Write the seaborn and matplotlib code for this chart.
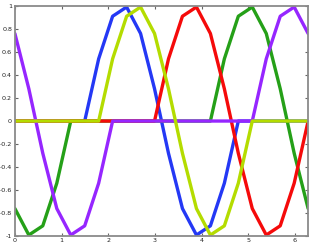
import numpy as np
import pandas as pd
import matplotlib
matplotlib.use('Agg')
import matplotlib.pyplot as plt
import seaborn as sns

# sample positions (22 points from 0 to 2*pi)
x_vals = [0.000, 0.299, 0.598, 0.898, 1.197, 1.496, 1.795, 2.094, 2.394, 2.693, 2.992,
          3.291, 3.590, 3.890, 4.189, 4.488, 4.787, 5.086, 5.386, 5.685, 5.984, 6.283]

# values, one list per line
blue   = [0, 0, 0, 0, 0, 0, 0.54, 0.91, 0.99, 0.76, 0.28,
          -0.28, -0.76, -0.99, -0.91, -0.54, 0, 0, 0, 0, 0, 0]
yellow = [0, 0, 0, 0, 0, 0, 0, 0.54, 0.91, 0.99, 0.76,
          0.28, -0.28, -0.76, -0.99, -0.91, -0.54, 0, 0, 0, 0, 0]
red    = [0, 0, 0, 0, 0, 0, 0, 0, 0, 0, 0,
          0.54, 0.91, 0.99, 0.76, 0.28, -0.28, -0.76, -0.99, -0.91, -0.54, 0]
green  = [-0.76, -0.99, -0.91, -0.54, 0, 0, 0, 0, 0, 0, 0,
          0, 0, 0, 0, 0.54, 0.91, 0.99, 0.76, 0.28, -0.28, -0.76]
purple = [0.76, 0.28, -0.28, -0.76, -0.99, -0.91, -0.54, 0, 0, 0, 0,
          0, 0, 0, 0, 0, 0, 0, 0.54, 0.91, 0.99, 0.76]

series = {"blue": blue, "yellow": yellow, "red": red, "green": green, "purple": purple}
colors = {"blue": "#2438f5", "yellow": "#b4dc00", "red": "#f50a0a",
          "green": "#25a018", "purple": "#9626ff"}
# later entries are drawn on top
draw_order = ["blue", "green", "red", "purple", "yellow"]

x_ticks = [0, 1, 2, 3, 4, 5, 6]
y_ticks = [-1, -0.8, -0.6, -0.4, -0.2, 0, 0.2, 0.4, 0.6, 0.8, 1]

rows = []
for name, vals in series.items():
    for xv, yv in zip(x_vals, vals):
        rows.append({"x": xv, "y": yv, "line": name})
df = pd.DataFrame(rows)

sns.set_style("white")
plt.rcParams['font.family'] = ['DejaVu Sans']

fig = plt.figure(figsize=(3.1, 2.45), dpi=100)
ax = fig.add_axes([0.048, 0.036, 0.946, 0.940])

sns.lineplot(data=df, x="x", y="y", hue="line", hue_order=draw_order,
             palette=colors, estimator=None, sort=False, linewidth=2.4,
             legend=False, ax=ax)

ax.set_xlim(0, x_vals[-1])
ax.set_ylim(-1, 1)
ax.set_xticks(x_ticks)
ax.set_yticks(y_ticks)
ax.set_xticklabels([f"{t:g}" for t in x_ticks])
ax.set_yticklabels([f"{t:g}" for t in y_ticks])
ax.set_xlabel("")
ax.set_ylabel("")

for side in ["left", "right", "top", "bottom"]:
    ax.spines[side].set_visible(True)
    ax.spines[side].set_color("#8a8a8a")
    ax.spines[side].set_linewidth(1.3)

ax.tick_params(direction="in", length=2.2, width=0.8, color="#666666",
               labelsize=4.6, labelcolor="#222222",
               top=True, right=True, bottom=True, left=True)
ax.tick_params(axis="x", pad=1.6)
ax.tick_params(axis="y", pad=2.0)

fig.savefig("out.png", dpi=100)
plt.close(fig)
